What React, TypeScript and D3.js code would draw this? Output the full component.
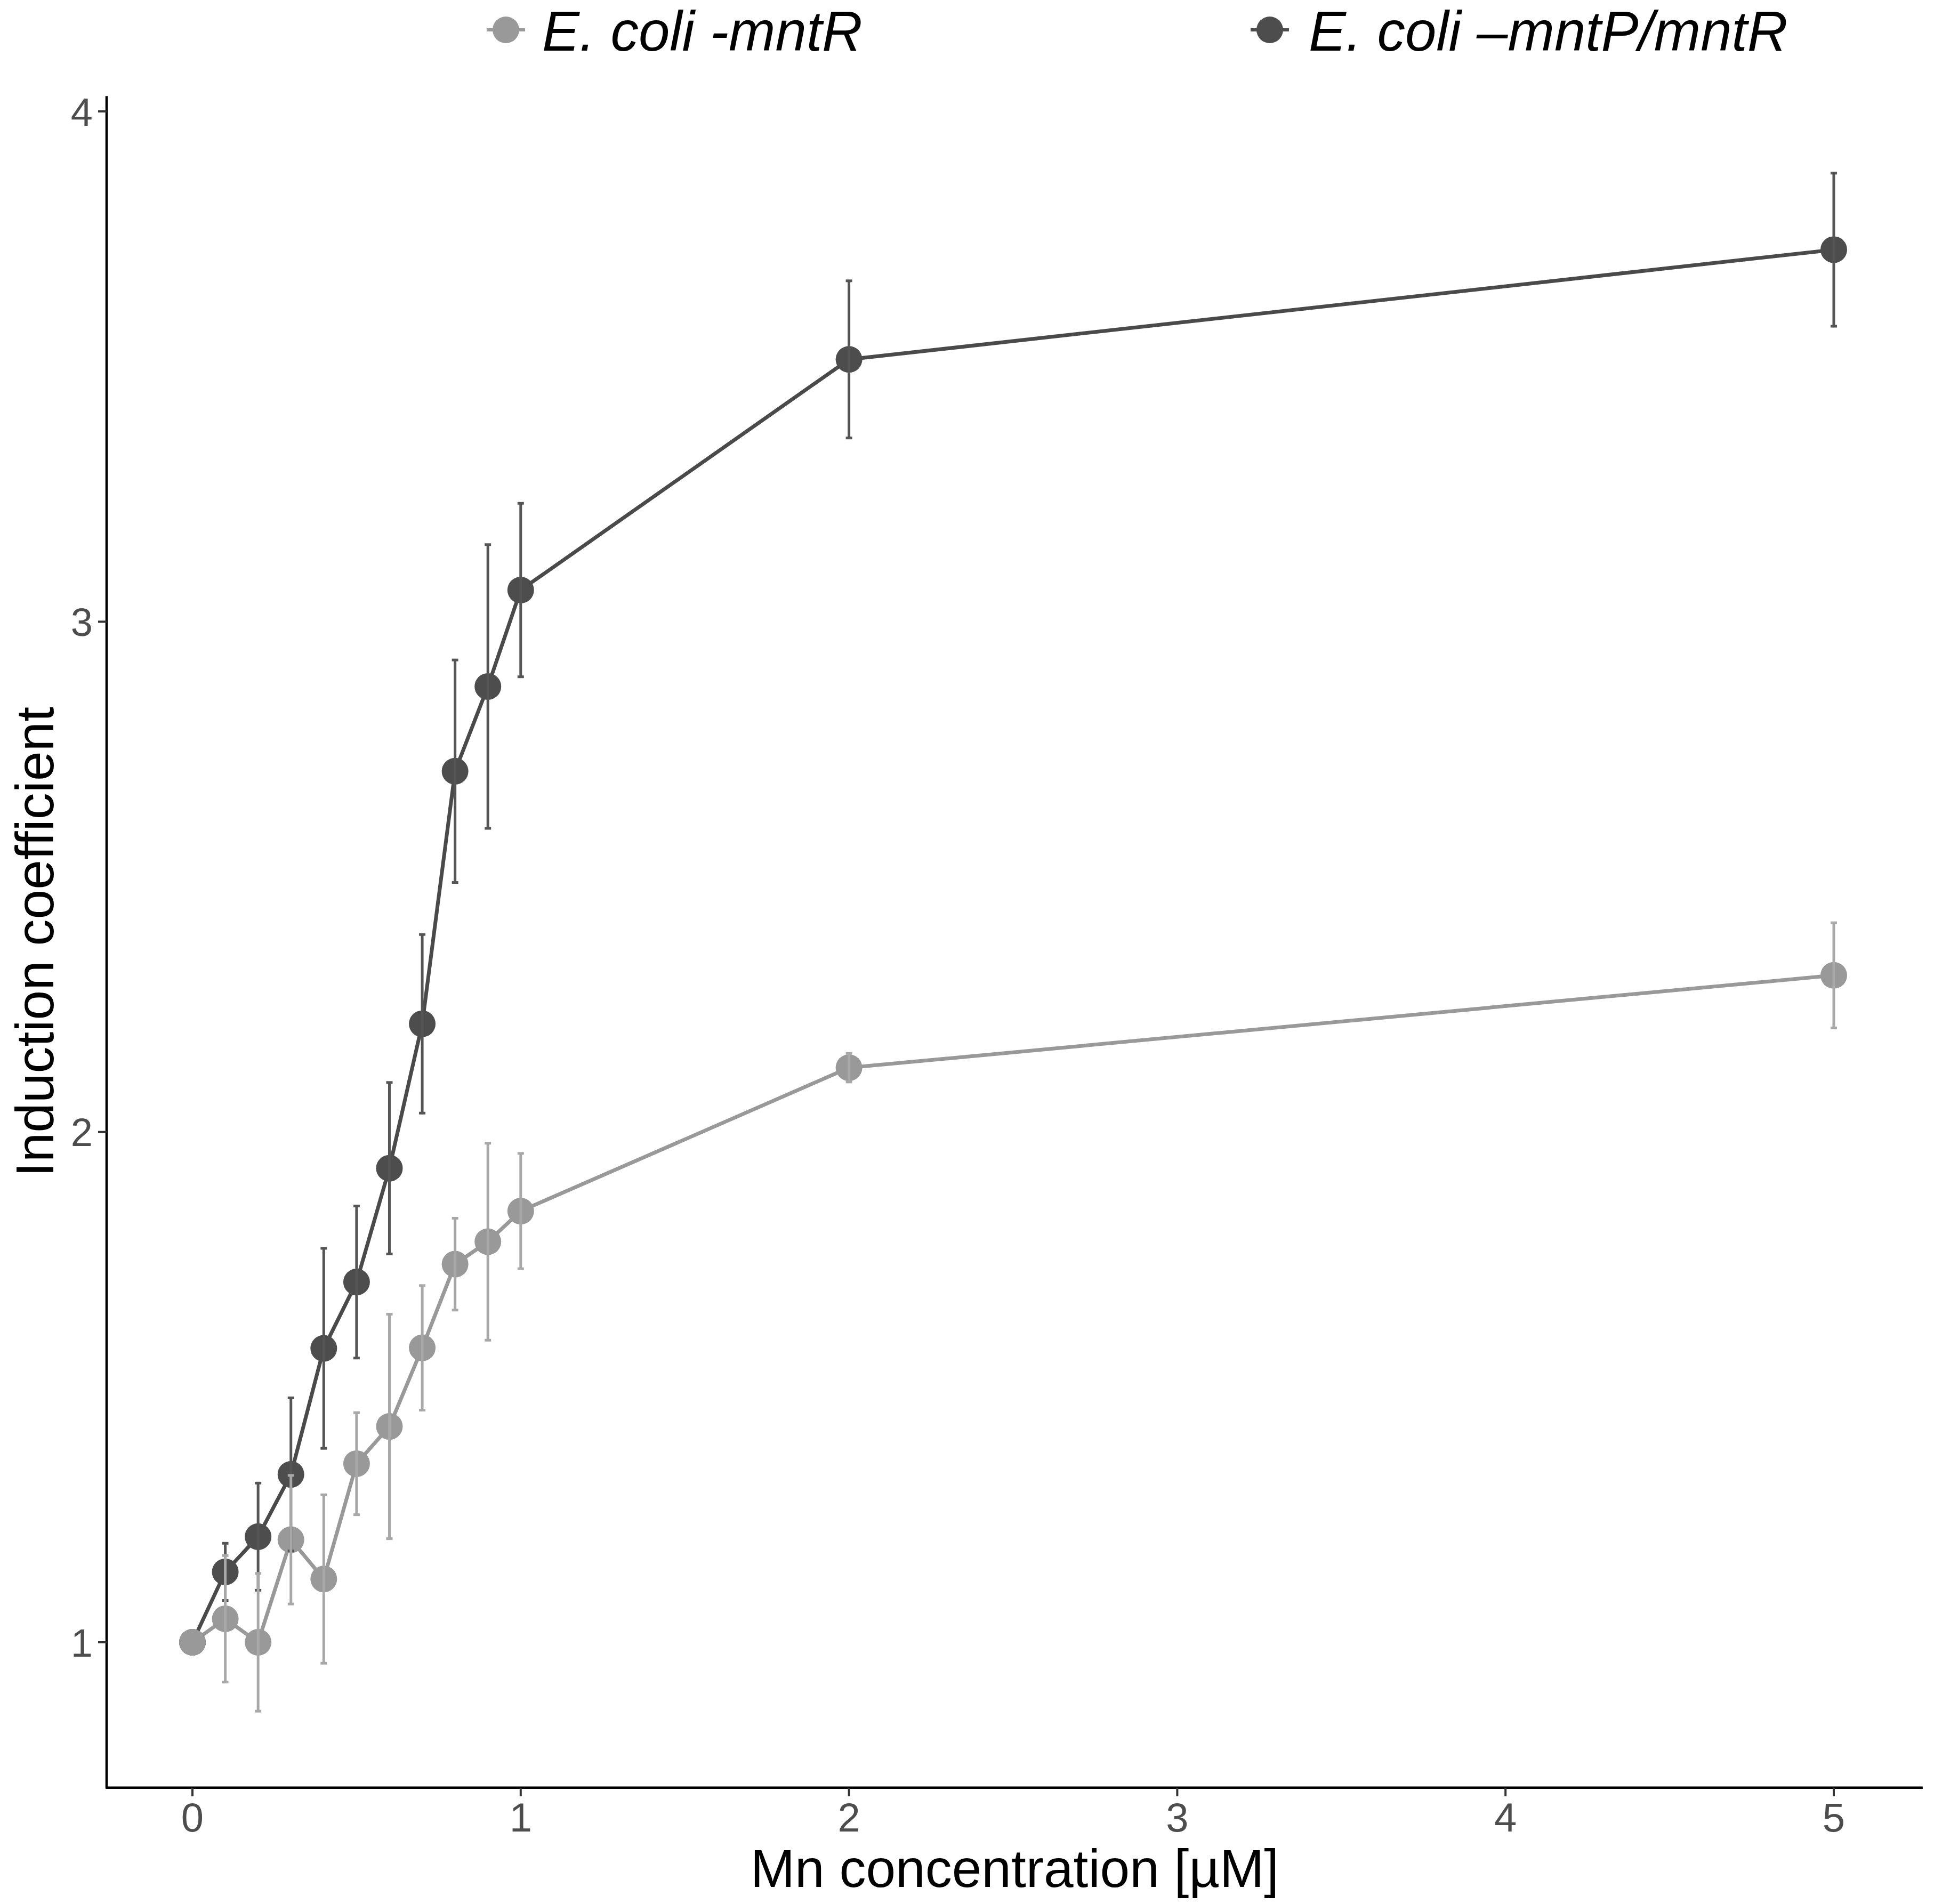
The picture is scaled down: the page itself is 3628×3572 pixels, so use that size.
import React from "react";
import * as d3 from "d3";

const conc = [0, 0.1, 0.2, 0.3, 0.4, 0.5, 0.6, 0.7, 0.8, 0.9, 1, 2, 5];
const mntR = [1.0, 1.046, 1.0, 1.201, 1.124, 1.35, 1.423, 1.577, 1.741, 1.785, 1.845, 2.126, 2.307];
const mntRErr = [0, 0.124, 0.135, 0.126, 0.165, 0.1, 0.22, 0.122, 0.09, 0.193, 0.113, 0.028, 0.103];
const mntPR = [1.0, 1.138, 1.207, 1.329, 1.576, 1.706, 1.929, 2.212, 2.707, 2.873, 3.062, 3.514, 3.729];
const mntPRErr = [0, 0.056, 0.105, 0.15, 0.196, 0.149, 0.168, 0.175, 0.218, 0.278, 0.17, 0.154, 0.15];

const xTicks = [0, 1, 2, 3, 4, 5];
const yTicks = [1, 2, 3, 4];

const seriesNames = ["E. coli -mntR", "E. coli \u2013mntP/mntR"];

const W = 3628;
const H = 3572;
const FONT = "'Liberation Sans', Arial, Helvetica, sans-serif";

export default function App() {
  const x = d3.scaleLinear().domain([0, 5]).range([361, 3440]);
  const y = d3.scaleLinear().domain([1, 4]).range([3081, 209]);
  const xMin = -0.2615, xMax = 5.271;
  const yMin = 0.715, yMax = 4.03;

  const series = [
    { name: seriesNames[1], vals: mntPR, err: mntPRErr, point: "#4d4d4d", line: "#4a4a4a", bar: "#555555" },
    { name: seriesNames[0], vals: mntR, err: mntRErr, point: "#999999", line: "#999999", bar: "#a8a8a8" },
  ];

  const line = d3
    .line<number>()
    .x((_, i) => x(conc[i]))
    .y((d) => y(d));

  const axisX0 = x(xMin);
  const axisX1 = x(xMax);
  const axisY0 = y(yMin);
  const axisY1 = y(yMax);
  const r = 25;
  const cap = 6;

  const legend = [
    { name: seriesNames[0], color: "#999999", kx: 949, tx: 1017 },
    { name: seriesNames[1], color: "#4d4d4d", kx: 2382, tx: 2455 },
  ];

  return (
    <svg
      width={W}
      height={H}
      style={{ position: "absolute", left: 0, top: 0, background: "#fff" }}
      fontFamily={FONT}
    >
      <rect x={0} y={0} width={W} height={H} fill="#fff" />
      {series.map((s) => (
        <path key={"l" + s.name} d={line(s.vals) || ""} fill="none" stroke={s.line} strokeWidth={7} strokeLinejoin="round" />
      ))}
      {series.map((s) =>
        s.vals.map((v, i) => (
          <circle key={"p" + s.name + i} cx={x(conc[i])} cy={y(v)} r={r} fill={s.point} />
        ))
      )}
      {series.map((s) =>
        s.vals.map((v, i) => {
          if (s.err[i] <= 0) return null;
          const cx = x(conc[i]);
          const yt = y(v + s.err[i]);
          const yb = y(v - s.err[i]);
          return (
            <g key={"e" + s.name + i} stroke={s.bar} strokeWidth={5}>
              <line x1={cx} x2={cx} y1={yt} y2={yb} />
              <line x1={cx - cap} x2={cx + cap} y1={yt} y2={yt} />
              <line x1={cx - cap} x2={cx + cap} y1={yb} y2={yb} />
            </g>
          );
        })
      )}
      <line x1={axisX0} x2={axisX0} y1={axisY1} y2={axisY0} stroke="#000" strokeWidth={4.5} />
      <line x1={axisX0 - 2} x2={axisX1} y1={axisY0} y2={axisY0} stroke="#000" strokeWidth={4.5} />
      {yTicks.map((t) => (
        <g key={"yt" + t}>
          <line x1={axisX0 - 16} x2={axisX0} y1={y(t)} y2={y(t)} stroke="#333" strokeWidth={4} />
          <text x={axisX0 - 26} y={y(t)} dy="0.36em" textAnchor="end" fontSize={74} fill="#4d4d4d">
            {t}
          </text>
        </g>
      ))}
      {xTicks.map((t) => (
        <g key={"xt" + t}>
          <line x1={x(t)} x2={x(t)} y1={axisY0} y2={axisY0 + 16} stroke="#333" strokeWidth={4} />
          <text x={x(t)} y={axisY0 + 82} textAnchor="middle" fontSize={76} fill="#4d4d4d">
            {t}
          </text>
        </g>
      ))}
      <text x={(axisX0 + axisX1) / 2} y={3540} textAnchor="middle" fontSize={100} fill="#000">
        Mn concentration [µM]
      </text>
      <text
        transform={`translate(100, ${(axisY0 + axisY1) / 2}) rotate(-90)`}
        textAnchor="middle"
        fontSize={100}
        fill="#000"
      >
        Induction coefficient
      </text>
      {legend.map((l) => (
        <g key={"lg" + l.name}>
          <line x1={l.kx - 36} x2={l.kx + 36} y1={56} y2={56} stroke={l.color} strokeWidth={6} />
          <circle cx={l.kx} cy={56} r={r} fill={l.color} />
          <text x={l.tx} y={95} fontSize={105} fontStyle="italic" fill="#000">
            {l.name}
          </text>
        </g>
      ))}
    </svg>
  );
}
